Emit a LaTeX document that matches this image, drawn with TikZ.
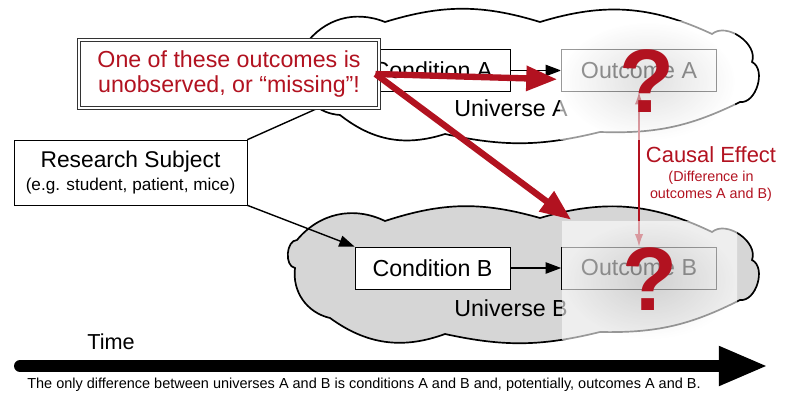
\documentclass[tikz,border=0pt]{standalone}
\usepackage{fontspec}
\setmainfont{Liberation Sans}
\usetikzlibrary{arrows.meta}
\definecolor{darkred}{RGB}{178,18,32}

\begin{document}
\begin{tikzpicture}[x=0.025cm, y=-0.025cm,
    box/.style={draw, fill=white, minimum width=3.875cm, minimum height=1.05cm,
      font=\fontsize{16.5}{18}\selectfont},
    cloudline/.style={draw, line width=1.2pt},
    veil/.style={inner color=gray!40, outer color=white, opacity=0.6},
    qmark/.style={text=darkred, font=\fontsize{64}{64}\selectfont\bfseries},
    arr/.style={-{Triangle[length=11pt,width=8pt]}, line width=1pt},
    redarr/.style={darkred, line width=4.5pt, -{Triangle[length=22pt,width=17pt]}}]
  \useasboundingbox (0,0) rectangle (800,413);
  % the two universes
  \path[cloudline, fill=white] (305,45) to[bend left=38] (385,22) to[bend left=17] (540,22)
    to[bend left=21] (712,34) to[bend left=75] (752,62) to[bend left=80] (740,102)
    to[bend left=14] (600,132) to[bend left=13] (445,134) to[bend left=28] (340,115)
    to[bend left=39] (300,78) to[bend left=55] cycle;
  \path[cloudline, fill=gray!32] (297,240) to[bend left=38] (385,221) to[bend left=17] (540,218)
    to[bend left=21] (712,232) to[bend left=75] (752,260) to[bend left=80] (740,300)
    to[bend left=14] (600,332) to[bend left=13] (445,334) to[bend left=28] (330,318)
    to[bend left=42] (295,268) to[bend left=85] cycle;
  \node[font=\fontsize{16.5}{18}\selectfont] (uniA) at (511,108) {Universe A};
  \node[font=\fontsize{16.5}{18}\selectfont] (uniB) at (511,308) {Universe B};
  \node[box] (condA) at (432.5,70.5) {Condition A};
  \node[box] (condB) at (432.5,268) {Condition B};
  \node[box, fill=none] (outA) at (639,70.5) {Outcome A};
  \node[box, fill=none] (outB) at (639,268) {Outcome B};
  \draw[arr] (condA) -- (outA);
  \draw[arr] (condB) -- (outB);
  \draw[{Latex[length=9pt,width=6pt]}-{Latex[length=9pt,width=6pt]}, darkred, line width=1pt] (outA.south) -- (outB.north);
  % faded outcomes
  \shade[veil] (560,22) rectangle (735,140);
  \shade[veil] (562,221) rectangle (737,339);
  \node[qmark] (qA) at (647,81) {?};
  \node[qmark] (qB) at (650,279) {?};
  % research subject
  \node[draw, fill=white, align=center, minimum width=5.825cm, minimum height=1.625cm,
    font=\fontsize{16.2}{16}\selectfont] (subject) at (130.5,172.5)
    {Research Subject\\\fontsize{12.2}{16}\selectfont(e.g. student, patient, mice)};
  \draw[arr] (subject.north east) -- (condA.south west);
  \draw[arr] (subject.south east) -- (condB.north west);
  % the missing outcome
  \node[draw=black!80, line width=0.6pt, double=white, double distance=1.8pt, fill=white,
    align=center, minimum width=7.5cm, minimum height=1.7cm, text=darkred,
    font=\fontsize{16.5}{17.8}\selectfont] (missing) at (229,74)
    {One of these outcomes is\\unobserved, or “missing”!};
  \draw[redarr] ([xshift=-0.1cm]missing.east) -- ([xshift=-0.1cm, yshift=-0.22cm]outA.west);
  \draw[redarr] ([xshift=-0.1cm]missing.east) -- ([xshift=0.25cm, yshift=0.675cm]outB.north west);
  \node[anchor=west, text=darkred, font=\fontsize{15.6}{18}\selectfont] (effect) at (641,155) {Causal Effect};
  \node[align=center, text=darkred, font=\fontsize{10.2}{12}\selectfont] (effectnote) at (711,186.5)
    {(Difference in\\outcomes A and B)};
  % time line
  \node[font=\fontsize{15.4}{18}\selectfont] (time) at (111,342) {Time};
  \coordinate (tstart) at (20,366);
  \coordinate (tend) at (768,366);
  \draw[line width=8.5pt, line cap=round, -{Triangle[length=35pt,width=26pt]}] (tstart) -- (tend);
  \node[font=\fontsize{10.3}{12}\selectfont] (note) at (364,385)
    {The only difference between universes A and B is conditions A and B and, potentially, outcomes A and B.};
\end{tikzpicture}
\end{document}
